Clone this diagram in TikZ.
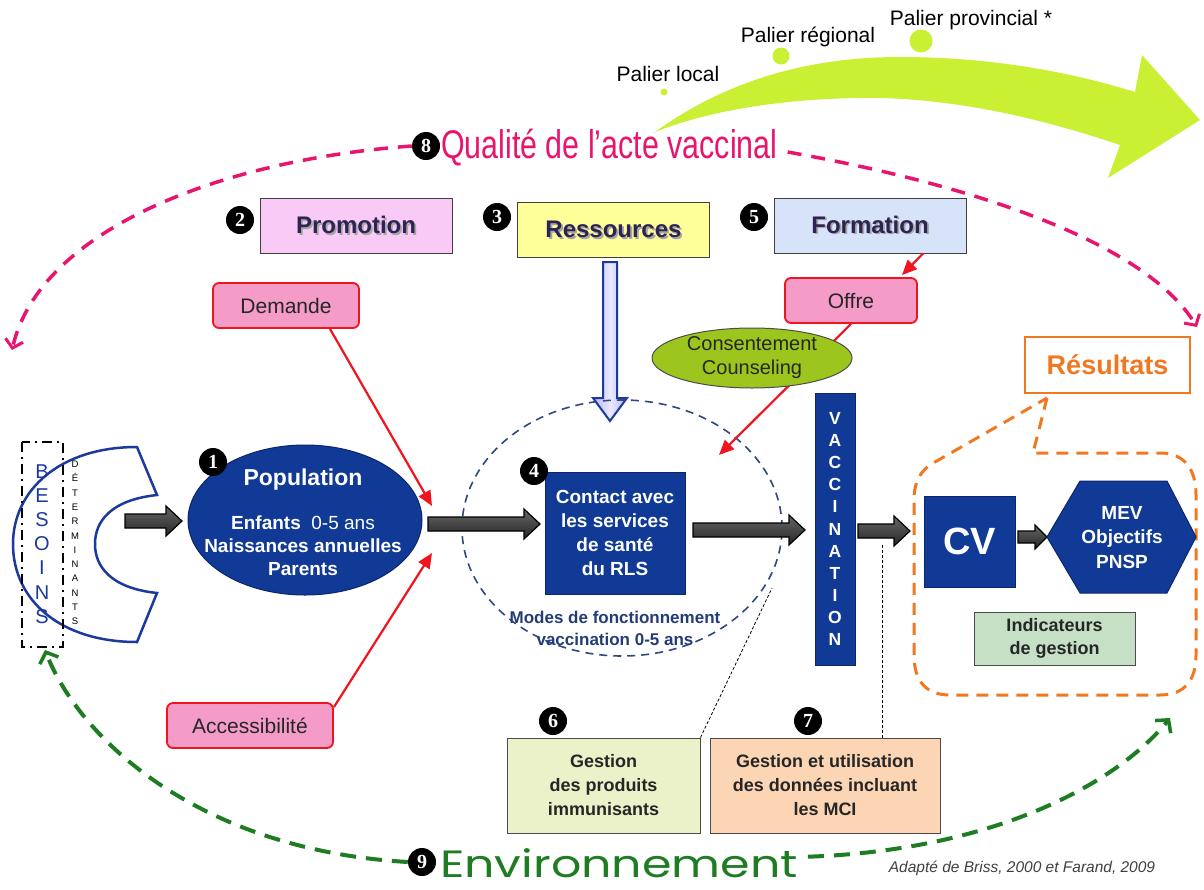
\documentclass[tikz,border=0pt]{standalone}
\usepackage{fontspec}
\setmainfont{Liberation Sans}
\newfontfamily\numfont{Liberation Serif}
\newfontfamily\envfont{Poppins}
\usetikzlibrary{arrows.meta,shapes.geometric,calc}
\definecolor{navy}{RGB}{16,58,150}
\definecolor{navyline}{RGB}{12,38,105}
\definecolor{qpink}{RGB}{232,20,110}
\definecolor{envgreen}{RGB}{30,125,35}
\definecolor{limeg}{RGB}{202,240,52}
\definecolor{promofill}{RGB}{250,202,246}
\definecolor{resfill}{RGB}{255,255,153}
\definecolor{formfill}{RGB}{214,227,248}
\definecolor{tagfill}{RGB}{245,155,200}
\definecolor{tagred}{RGB}{240,20,30}
\definecolor{consfill}{RGB}{156,197,30}
\definecolor{orangeres}{RGB}{240,120,32}
\definecolor{besblue}{RGB}{28,58,155}
\definecolor{indfill}{RGB}{197,224,197}
\definecolor{gsixfill}{RGB}{235,241,200}
\definecolor{gsevfill}{RGB}{252,213,181}
\definecolor{headtxt}{RGB}{46,36,84}
\newcommand\shadowtxt[1]{\rlap{\hspace{1.8pt}\raisebox{-1.8pt}{\color{black!35}#1}}#1}
\newcommand\blockarr[6]{%
  \draw[barrow] (#1,#3-#4) -- (#2-#6,#3-#4) -- (#2-#6,#3-#5) -- (#2,#3) -- (#2-#6,#3+#5) -- (#2-#6,#3+#4) -- (#1,#3+#4) -- cycle;}
\tikzset{
  num/.style={circle, fill=black, text=white, inner sep=0pt, minimum size=28pt, font=\numfont\bfseries\fontsize{20}{20}\selectfont},
  headbox/.style={draw=black!75, line width=1pt, inner sep=0pt, minimum width=192pt, minimum height=55pt, font=\bfseries\fontsize{24}{24}\selectfont, text=headtxt},
  tag/.style={draw=tagred, line width=1.8pt, rounded corners=6pt, fill=tagfill, inner sep=0pt, font=\fontsize{21}{21}\selectfont, text=black!85},
  redarrow/.style={tagred, line width=2.2pt, -{Triangle[length=15pt,width=13pt]}},
  bluebox/.style={fill=navy, draw=navyline, line width=1pt, text=white, inner sep=0pt, align=center},
  wbox/.style={draw=black!70, line width=1pt, inner sep=0pt, align=center, font=\bfseries\fontsize{18}{24}\selectfont, text=black!85},
  barrow/.style={draw=black, line width=1.2pt, top color=black!60, bottom color=black!85},
  pinkdash/.style={qpink, line width=3.5pt, dash pattern=on 14pt off 10pt, -{Straight Barb[length=8pt,width=18pt,line width=3pt]}},
  greendash/.style={envgreen, line width=4pt, dash pattern=on 16pt off 10pt, -{Straight Barb[length=9pt,width=20pt,line width=3.5pt]}},
  thindot/.style={black, line width=0.8pt, dash pattern=on 3pt off 2pt},
  palier/.style={font=\fontsize{21}{21}\selectfont},
}
\begin{document}
\begin{tikzpicture}[x=1pt,y=-1pt]
\useasboundingbox (0,0) rectangle (1204,889);
\fill[white] (0,0) rectangle (1204,889);

% big green arrow
\fill[limeg] (655,132) .. controls (720,85) and (800,57) .. (900,57)
  .. controls (1000,57) and (1080,75) .. (1135,92) -- (1142,55) -- (1200,120)
  -- (1108,178) -- (1120,145) .. controls (1040,118) and (960,100) .. (880,98)
  .. controls (790,97) and (710,110) .. (655,132) -- cycle;
\fill[limeg] (664,92) circle (3.5);
\fill[limeg] (781,56) circle (8.5);
\fill[limeg] (921,41) circle (11.5);
\node[palier] (plocal) at (668,74) {Palier local};
\node[palier] (preg) at (808,37) {Palier régional};
\node[palier] (pprov) at (971,20) {Palier provincial *};

% quality title and pink arcs
\node[num] (n8) at (426,146) {8};
\node[anchor=west, text=qpink, font=\fontsize{40}{40}\selectfont, inner sep=0pt] (qual) at (441,148) {\scalebox{0.76}[1]{Qualité de l’acte vaccinal}};
\draw[pinkdash] (n8.west) .. controls (220,160) and (40,230) .. (12,350);
\draw[pinkdash] ($(qual.east)+(10,4)$) .. controls (1000,190) and (1150,250) .. (1197,327);

% top boxes
\node[headbox, fill=promofill] (promo) at (356,226) {\shadowtxt{Promotion}};
\node[num] (n2) at (240,220) {2};
\node[headbox, fill=resfill] (res) at (613.5,230) {\shadowtxt{Ressources}};
\node[num] (n3) at (497,217) {3};
\node[headbox, fill=formfill] (form) at (870,225.5) {\shadowtxt{Formation}};
\node[num] (n5) at (754,217) {5};

% tags
\node[tag, minimum width=146pt, minimum height=45pt] (dem) at (286,305.5) {Demande};
\node[tag, minimum width=132pt, minimum height=45pt] (offre) at (851,300.5) {Offre};
\node[tag, minimum width=166pt, minimum height=45pt] (access) at (250,725.5) {Accessibilité};

% ressources hollow arrow
\shade[left color=blue!30, right color=blue!30, middle color=blue!8, draw=besblue, line width=2pt]
  (603,262) -- (617,262) -- (617,398) -- (627,398) -- (610,421) -- (593,398) -- (603,398) -- cycle;
\coordinate (resarrow) at (610,262);

% modes dashed circle
\node[ellipse, draw=navyline!85, line width=1.6pt, dash pattern=on 8pt off 6pt, minimum width=320pt, minimum height=256pt] (modes) at (622,528) {};
\node[text=navyline!90, align=center, font=\bfseries\fontsize{17}{22}\selectfont] (modestxt) at (615,628) {Modes de fonctionnement\\vaccination 0-5 ans};

% red arrows
\coordinate (dtip) at (432,506);
\coordinate (atip) at (432,553);
\coordinate (otip) at (719,455);
\draw[redarrow] ($(dem.south)+(44,0)$) -- (dtip);
\draw[redarrow] ($(access.north east)+(0,5)$) -- (atip);
\draw[redarrow] (offre.south) -- (otip);
\draw[redarrow] ($(form.south)+(53,0)$) -- ($(offre.north)+(51,-2)$);

% consentement
\node[ellipse, draw=black!70, line width=1pt, fill=consfill, inner sep=0pt, minimum width=200pt, minimum height=60pt, align=center, font=\fontsize{20}{24}\selectfont, text=black!85] (cons) at (752,358) {Consentement\\Counseling};

% besoins / determinants
\draw[besblue, line width=2.5pt] (137,447) -- (157,495) .. controls (110,500) and (95,522) .. (95,544)
  .. controls (95,566) and (110,588) .. (157,593) -- (137,642)
  .. controls (60,642) and (13,600) .. (13,544) .. controls (13,490) and (60,447) .. (137,447) -- cycle;
\draw[black, line width=2.5pt, dash pattern=on 10pt off 5pt on 2pt off 5pt] (22,442) rectangle (63,647);
\node[text=besblue, align=center, inner sep=0pt, font=\fontsize{20}{24.2}\selectfont] (besoins) at (42,544) {B\\E\\S\\O\\I\\N\\S};
\node[align=center, inner sep=0pt, font=\fontsize{9.5}{14.3}\selectfont] (determ) at (75,543) {D\\É\\T\\E\\R\\M\\I\\N\\A\\N\\T\\S};

% population
\node[ellipse, fill=navy, draw=navyline, line width=1pt, minimum width=234pt, minimum height=150pt] (pop) at (305,520) {};
\node[num] (n1) at (213,462) {1};
\node[text=white, font=\bfseries\fontsize{23}{23}\selectfont] (poptitle) at (303,480) {Population};
\node[text=white, align=center, font=\bfseries\fontsize{19}{23}\selectfont] (popbody) at (303,546) {Enfants\ \ {\mdseries 0-5 ans}\\Naissances annuelles\\Parents};

% contact
\node[bluebox, minimum width=140pt, minimum height=122pt, font=\bfseries\fontsize{19}{24}\selectfont] (contact) at (615,533) {Contact avec\\les services\\de santé\\du RLS};
\node[num] (n4) at (534,471) {4};

% vaccination
\node[bluebox, minimum width=40pt, minimum height=272pt, font=\bfseries\fontsize{17.5}{22.1}\selectfont] (vacc) at (835,529) {V\\A\\C\\C\\I\\N\\A\\T\\I\\O\\N};

% block arrows
\blockarr{125}{182}{521}{7}{15}{16}
\blockarr{428}{540}{524}{7}{15}{16}
\blockarr{693}{805}{530}{7}{15}{16}
\blockarr{858}{910}{531}{7}{15}{16}
\blockarr{1018}{1047}{537}{6}{12}{12}

% results region
\draw[orangeres, line width=3pt, dash pattern=on 12pt off 8pt]
  (1047,398) -- (1033,453) -- (1160,453) .. controls (1185,453) and (1196,470) .. (1196,495)
  -- (1196,655) .. controls (1196,680) and (1185,695) .. (1160,695) -- (950,695)
  .. controls (925,695) and (914,680) .. (914,655) -- (914,500)
  .. controls (914,482) and (920,470) .. (935,462) -- cycle;
\node[draw=orangeres, line width=2.5pt, fill=white, inner sep=0pt, minimum width=165pt, minimum height=56pt, text=orangeres, font=\bfseries\fontsize{27}{27}\selectfont] (resultats) at (1107.5,365) {Résultats};
\node[bluebox, minimum width=91pt, minimum height=91pt, font=\bfseries\fontsize{38}{38}\selectfont] (cv) at (969.5,541.5) {CV};
\fill[navy, draw=navyline, line width=1pt] (1047,537) -- (1080,481) -- (1167,481) -- (1196,537) -- (1167,593) -- (1080,593) -- cycle;
\node[text=white, align=center, font=\bfseries\fontsize{19}{24.5}\selectfont] (mev) at (1122,537.5) {MEV\\Objectifs\\PNSP};
\node[wbox, fill=indfill, minimum width=161pt, minimum height=53pt, font=\bfseries\fontsize{18}{23}\selectfont] (indic) at (1054.5,638.5) {Indicateurs\\de gestion};

% bottom boxes
\node[wbox, fill=gsixfill, minimum width=193pt, minimum height=95pt] (g6) at (603.5,785.5) {Gestion\\des produits\\immunisants};
\node[wbox, fill=gsevfill, minimum width=230pt, minimum height=95pt] (g7) at (825,785.5) {Gestion et utilisation\\des données incluant\\les MCI};
\node[num] (n6) at (553,721) {6};
\node[num] (n7) at (808,721) {7};
\coordinate (modesedge) at (772,588);
\coordinate (arrowfour) at (882,543);
\draw[thindot] (g6.north east) -- (modesedge);
\draw[thindot] (g7.north -| arrowfour) -- (arrowfour);

% environnement
\node[num] (n9) at (422,862) {9};
\node[anchor=base west, text=envgreen, inner sep=0pt, font=\envfont\fontsize{38}{38}\selectfont] (env) at (440,877) {\scalebox{1.25}[1]{Environnement}};
\draw[greendash] (n9.west) .. controls (200,850) and (80,740) .. (45,650);
\draw[greendash] ($(env.east)+(10,-6)$) .. controls (1000,850) and (1120,780) .. (1170,718);
\node[font=\itshape\fontsize{15.5}{15.5}\selectfont, text=black!75] (credit) at (1022,868) {Adapté de Briss, 2000 et Farand,  2009};
\end{tikzpicture}
\end{document}
